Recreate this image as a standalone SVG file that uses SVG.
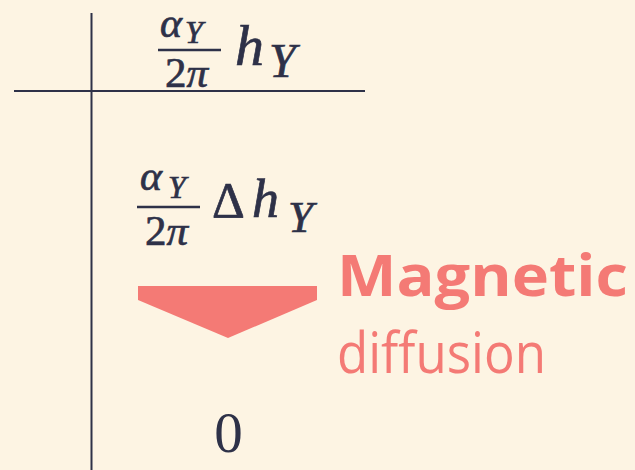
<svg xmlns="http://www.w3.org/2000/svg" width="635" height="470" viewBox="0 0 635 470">
<style>
.m{fill:#2e3148;stroke:#2e3148;stroke-width:0.7;font-family:"Liberation Serif","DejaVu Serif",serif;font-style:italic}
.u{fill:#2e3148;stroke:#2e3148;stroke-width:0.7;font-family:"Liberation Serif","DejaVu Serif",serif}
.z{fill:#2e3148;font-family:"Liberation Serif","DejaVu Serif",serif}
.ln{stroke:#2e3148;stroke-width:2;fill:none}
.bar{stroke:#2e3148;stroke-width:2.5}
.c{fill:#f47a75;font-family:"Open Sans","Liberation Sans",sans-serif}
</style>
<rect width="635" height="470" fill="#fdf4e3"/>
<g id="connectors">
<line class="ln" x1="91.5" y1="13" x2="91.5" y2="470"/>
<line class="ln" x1="14" y1="91" x2="365" y2="91"/>
</g>
<g id="top-formula">
<text class="m" x="160" y="37" font-size="42">α</text>
<text class="m" x="185" y="43" font-size="32">Y</text>
<line class="bar" x1="158" y1="50" x2="221" y2="50"/>
<text class="u" x="165" y="87" font-size="43">2<tspan class="m">π</tspan></text>
<text class="m" x="235" y="65" font-size="58">h</text>
<text class="m" x="269" y="77" font-size="48">Y</text>
</g>
<g id="mid-formula">
<text class="m" x="140" y="190" font-size="42">α</text>
<text class="m" x="168" y="198" font-size="32">Y</text>
<line class="bar" x1="137" y1="207" x2="200" y2="207"/>
<text class="u" x="212" y="217" font-size="51">Δ</text>
<text class="u" x="145" y="245" font-size="43">2<tspan class="m">π</tspan></text>
<text class="m" x="252" y="217" font-size="54">h</text>
<text class="m" x="288" y="232" font-size="45">Y</text>
</g>
<g id="arrow">
<polygon points="138,286 317,286 317,300 228,338 138,300" fill="#f47a75"/>
</g>
<g id="label">
<text class="c" x="337" y="296" font-size="58" font-weight="bold" textLength="291" lengthAdjust="spacingAndGlyphs">Magnetic</text>
<text class="c" x="337" y="373" font-size="56" textLength="209" lengthAdjust="spacingAndGlyphs">diffusion</text>
</g>
<g id="zero">
<text class="z" x="228.5" y="452" font-size="57" text-anchor="middle">0</text>
</g>
</svg>
